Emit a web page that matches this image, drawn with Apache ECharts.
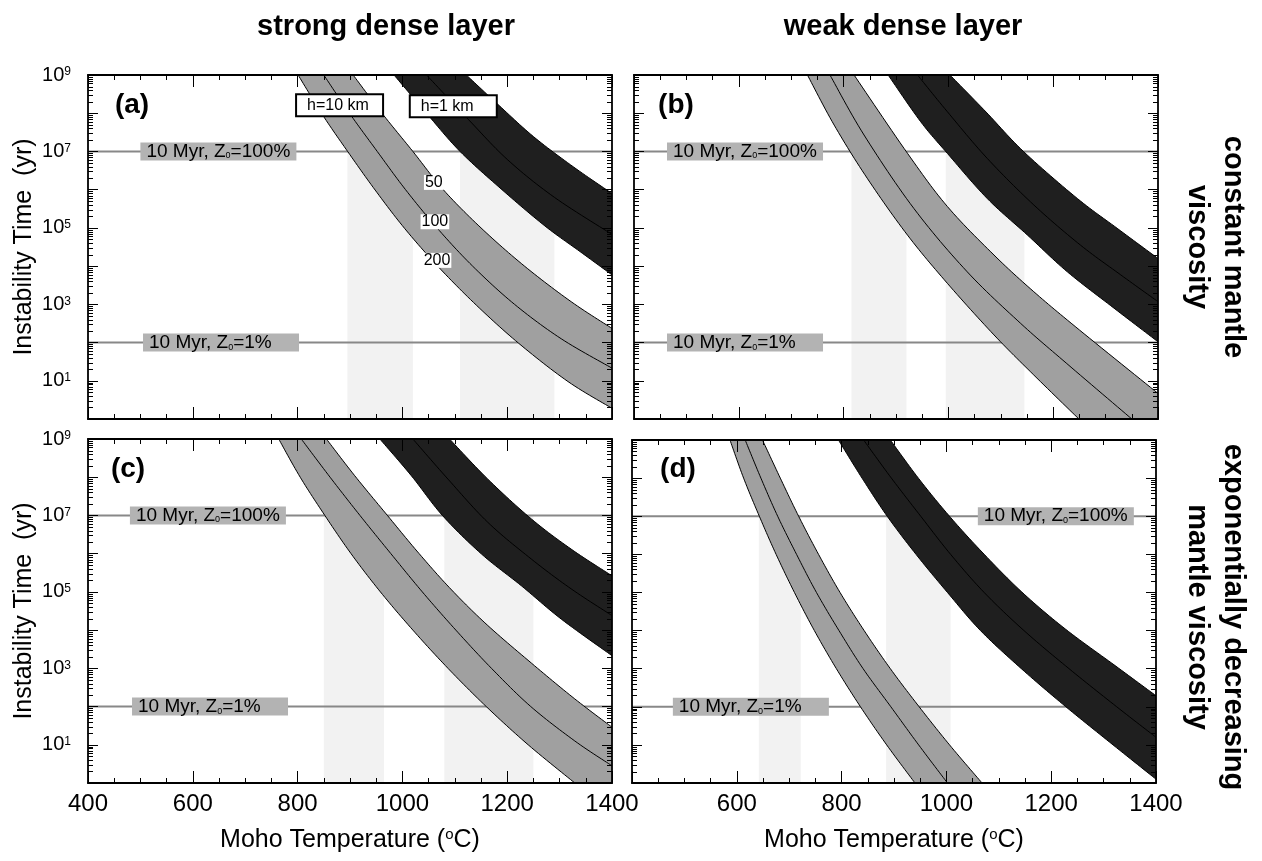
<!DOCTYPE html>
<html>
<head>
<meta charset="utf-8">
<script src="https://cdn.jsdelivr.net/npm/echarts@6/dist/echarts.min.js"></script>
<style>
html,body{margin:0;padding:0;background:#fff;}
#chart{width:1262px;height:861px;}
</style>
</head>
<body>
<div id="chart"></div>
<script>
// ---------------- DATA ----------------
// Each curve: [Moho temperature (°C), log10 of instability time (yr)]
// Labels 50 / 100 / 200 refer to the three curves of each band.
// (a) strong dense layer, constant mantle viscosity
const a_h10_50  = [[906,9.0],[961,8.0],[1020,7.0],[1078,6.0],[1150,5.0],[1233,4.0],[1322,3.07],[1400,2.37]];
const a_h10_100 = [[850,9.0],[899,8.0],[952,7.0],[1006,6.0],[1066,5.0],[1134,4.0],[1214,3.0],[1303,2.1],[1400,1.33]];
const a_h10_200 = [[801,9.0],[848,7.95],[896,6.99],[948,5.99],[1004,4.99],[1068,3.99],[1141,2.98],[1222,1.98],[1316,0.98],[1400,0.28]];
const a_h1_50   = [[1122,9.0],[1180,8.26],[1250,7.39],[1326,6.6],[1400,5.9]];
const a_h1_100  = [[1046,9.0],[1125,7.85],[1201,6.78],[1290,5.8],[1400,4.83]];
const a_h1_200  = [[984,9.0],[1046,8.0],[1110,7.0],[1190,6.0],[1272,5.05],[1339,4.38],[1400,3.77]];
// (b) weak dense layer, constant mantle viscosity
const b_h10_50  = [[820,9.0],[922,6.95],[998,5.56],[1087,4.29],[1163,3.33],[1250,2.33],[1400,0.67]];
const b_h10_100 = [[774,9.0],[839,7.43],[934,5.51],[1036,3.85],[1138,2.5],[1226,1.45],[1350,0.0]];
const b_h10_200 = [[731,9.0],[782,7.69],[845,6.3],[922,4.81],[998,3.55],[1087,2.2],[1163,1.15],[1249,0.0]];
const b_h1_50   = [[1003,9.0],[1072,8.03],[1144,6.99],[1246,5.77],[1322,4.99],[1400,4.2]];
const b_h1_100  = [[941,9.0],[998,8.04],[1074,6.82],[1163,5.6],[1252,4.55],[1329,3.77],[1400,3.07]];
const b_h1_200  = [[885,9.0],[947,7.78],[998,6.95],[1074,5.77],[1151,4.81],[1227,3.85],[1316,2.9],[1400,2.02]];
// (c) strong dense layer, exponentially decreasing mantle viscosity
const c_h10_50  = [[855,9.0],[909,8.04],[972,6.99],[1032,6.0],[1094,5.05],[1163,4.12],[1252,3.07],[1329,2.2],[1400,1.46]];
const c_h10_100 = [[807,9.0],[862,8.0],[919,7.0],[978,6.0],[1038,5.0],[1102,4.0],[1170,3.0],[1245,2.0],[1329,1.1],[1400,0.45]];
const c_h10_200 = [[764,9.0],[805,8.0],[852,7.0],[902,6.0],[958,5.0],[1020,4.0],[1087,3.0],[1160,2.0],[1240,1.0],[1329,0.0]];
const c_h1_50   = [[1090,9.0],[1163,7.95],[1246,6.91],[1322,6.12],[1400,5.42]];
const c_h1_100  = [[1020,9.0],[1087,7.95],[1163,6.82],[1246,5.86],[1322,5.08],[1400,4.38]];
const c_h1_200  = [[957,9.0],[1017,8.04],[1077,6.99],[1151,5.99],[1227,5.16],[1303,4.29],[1400,3.33]];
// (d) weak dense layer, exponentially decreasing mantle viscosity
const d_h10_50  = [[649,9.0],[683,8.0],[718,7.0],[756,6.0],[797,5.0],[843,4.0],[893,3.0],[948,2.0],[1006,1.0],[1068,0.0]];
const d_h10_100 = [[616,9.0],[646,8.0],[678,7.0],[714,6.0],[752,5.0],[795,4.0],[841,3.0],[894,2.0],[947,1.0],[1002,0.0]];
const d_h10_200 = [[587,9.0],[613,8.0],[643,7.0],[675,6.0],[710,5.0],[748,4.0],[790,3.0],[836,2.0],[886,1.0],[940,0.0]];
const d_h1_50   = [[893,9.0],[947,7.99],[1004,7.03],[1068,6.06],[1144,5.01],[1227,4.04],[1322,3.08],[1400,2.29]];
const d_h1_100  = [[842,9.0],[895,8.0],[951,7.0],[1008,6.0],[1072,5.0],[1148,4.0],[1234,3.0],[1325,2.0],[1400,1.2]];
const d_h1_200  = [[794,9.0],[839,8.0],[887,7.0],[942,6.0],[1002,5.0],[1065,4.0],[1143,3.0],[1228,2.0],[1318,1.0],[1400,0.1]];

// light vertical shaded temperature ranges [Tmin, Tmax]
const a_shade = [[895,1020],[1110,1290]];
const b_shade = [[815,920],[995,1145]];
const c_shade = [[850,965],[1080,1250]];
const d_shade = [[642,722],[885,1008]];

// reference times (yr) and their labels
const REF_TIMES = [1e7, 1e2];
const REF_NAMES = ['100%', '1%'];
// temperature where each reference label box starts
const a_refT = [500, 505];
const b_refT = [463, 463];
const c_refT = [480, 484];
const d_refT = [1060, 478];

// curve labels in panel (a): [text, T, log10 t]
const a_curveNums = [['50',1060,6.19],['100',1062,5.16],['200',1066,4.15]];
// thickness boxes in panel (a): [text, T(left edge), log10 t]
const a_hBoxes = [['h=10 km',799,8.21],['h=1 km',1016,8.18]];

const X_MIN = 400, X_MAX = 1400, X_STEP = 200;
const Y_MIN = 1, Y_MAX = 1e9;
const Y_LABEL_EXP = [1,3,5,7,9];

// ---------------- BUILD ----------------
const FONT = '"Liberation Sans", Arial, Helvetica, sans-serif';
const GRAY = '#a0a0a0', BLACK = '#1f1f1f';
const P = v => Math.pow(10, v);
const toXY = c => c.map(([t, e]) => [t, P(e)]);

// rendering helper: smooth (Catmull-Rom as cubic Bezier) sampling of pixel points
function smoothPx(px, n) {
  if (px.length < 3) return px;
  const out = [px[0]];
  for (let i = 0; i < px.length - 1; i++) {
    const p0 = px[Math.max(i - 1, 0)], p1 = px[i], p2 = px[i + 1], p3 = px[Math.min(i + 2, px.length - 1)];
    const c1 = [p1[0] + (p2[0] - p0[0]) / 6, p1[1] + (p2[1] - p0[1]) / 6];
    const c2 = [p2[0] - (p3[0] - p1[0]) / 6, p2[1] - (p3[1] - p1[1]) / 6];
    for (let k = 1; k <= n; k++) {
      const t = k / n, u = 1 - t;
      out.push([
        u*u*u*p1[0] + 3*u*u*t*c1[0] + 3*u*t*t*c2[0] + t*t*t*p2[0],
        u*u*u*p1[1] + 3*u*u*t*c1[1] + 3*u*t*t*c2[1] + t*t*t*p2[1]
      ]);
    }
  }
  return out;
}

const yMinor = [];
for (let n = 0; n < 9; n++) for (let k = 2; k <= 9; k++) yMinor.push(k * Math.pow(10, n));

const panels = [
  {grid:{left:88, top:75, width:524, height:344}, gray:[a_h10_50,a_h10_100,a_h10_200], black:[a_h1_50,a_h1_100,a_h1_200], shade:a_shade, refT:a_refT, xl:false, yl:true},
  {grid:{left:634, top:75, width:524, height:344}, gray:[b_h10_50,b_h10_100,b_h10_200], black:[b_h1_50,b_h1_100,b_h1_200], shade:b_shade, refT:b_refT, xl:false, yl:false},
  {grid:{left:88, top:439, width:524, height:344}, gray:[c_h10_50,c_h10_100,c_h10_200], black:[c_h1_50,c_h1_100,c_h1_200], shade:c_shade, refT:c_refT, xl:true, yl:true, skip400:false},
  {grid:{left:632, top:440, width:524, height:343}, gray:[d_h10_50,d_h10_100,d_h10_200], black:[d_h1_50,d_h1_100,d_h1_200], shade:d_shade, refT:d_refT, xl:true, yl:false, skip400:true}
];

const grid = [], xAxis = [], yAxis = [], series = [];
const axisLine = {show:true, onZero:false, lineStyle:{color:'#000', width:1.8}};

panels.forEach((p, i) => {
  grid.push(Object.assign({outerBoundsMode:'none', containLabel:false}, p.grid));
  ['bottom','top'].forEach((pos, j) => {
    xAxis.push({
      type:'value', gridIndex:i, position:pos, min:X_MIN, max:X_MAX, interval:X_STEP, z:10,
      axisLine:axisLine,
      axisTick:{show:true, inside:true, length:12, lineStyle:{color:'#000', width:1}},
      minorTick:{show:true, splitNumber:4, length:5, lineStyle:{color:'#000', width:1}},
      splitLine:{show:false}, minorSplitLine:{show:false},
      axisLabel:{show: j === 0 && p.xl, fontSize:24, color:'#000', fontFamily:FONT, margin:9,
        formatter: v => (p.skip400 && v === X_MIN) ? '' : String(v)}
    });
  });
  ['left','right'].forEach((pos, j) => {
    yAxis.push({
      type:'log', logBase:10, gridIndex:i, position:pos, min:Y_MIN, max:Y_MAX, interval:1, splitNumber:9, z:10,
      axisLine:axisLine,
      axisTick:{show:true, inside:true, length:10, lineStyle:{color:'#000', width:1}},
      splitLine:{show:false},
      axisLabel:{show: j === 0 && p.yl, margin:17, color:'#000',
        formatter: v => { const e = Math.round(Math.log10(v)); return Y_LABEL_EXP.indexOf(e) >= 0 ? '{b|10}{e|' + e + '}' : ''; },
        rich:{b:{fontSize:20, fontFamily:FONT, color:'#000', lineHeight:18},
              e:{fontSize:12, fontFamily:FONT, color:'#000', lineHeight:2, verticalAlign:'top'}}}
    });
  });
  const xi = 2 * i, yi = 2 * i;
  // shaded temperature ranges
  series.push({type:'custom', xAxisIndex:xi, yAxisIndex:yi, z:1, silent:true, animation:false,
    data: p.shade.map(s => [s[0], s[1]]),
    renderItem:(params, api) => {
      const p0 = api.coord([api.value(0), REF_TIMES[0]]);
      const p1 = api.coord([api.value(1), Y_MIN]);
      return {type:'rect', shape:{x:p0[0], y:p0[1], width:p1[0]-p0[0], height:p1[1]-p0[1]}, style:{fill:'#f2f2f2'}};
    }});
  // reference horizontal lines
  series.push({type:'custom', xAxisIndex:xi, yAxisIndex:yi, z:2, silent:true, animation:false,
    data: REF_TIMES.map(v => [X_MIN, v]),
    renderItem:(params, api) => {
      const a = api.coord([X_MIN, api.value(1)]), b = api.coord([X_MAX, api.value(1)]);
      return {type:'line', shape:{x1:a[0], y1:a[1], x2:b[0], y2:b[1]}, style:{stroke:'#888888', lineWidth:2}};
    }});
  // bands (fill + three curves)
  [[p.gray, GRAY], [p.black, BLACK]].forEach(([c, fill]) => {
    const up = toXY(c[0]), mid = toXY(c[1]), lo = toXY(c[2]);
    const ue = c[0][c[0].length - 1], le = c[2][c[2].length - 1];
    const needCorner = ue[0] >= X_MAX && le[1] <= 0 && le[0] < X_MAX;
    series.push({type:'custom', xAxisIndex:xi, yAxisIndex:yi, z:3, silent:true, clip:true, animation:false,
      data:[up[0]],
      renderItem:(params, api) => {
        const su = smoothPx(up.map(q => api.coord(q)), 14);
        const sm = smoothPx(mid.map(q => api.coord(q)), 14);
        const sl = smoothPx(lo.map(q => api.coord(q)), 14);
        let poly = su.slice();
        if (needCorner) poly.push(api.coord([X_MAX, Y_MIN]));
        poly = poly.concat(sl.slice().reverse());
        const ln = pts => ({type:'polyline', shape:{points:pts}, style:{stroke:'#000', lineWidth:1, fill:null}});
        return {type:'group', children:[
          {type:'polygon', shape:{points:poly}, style:{fill:fill}},
          ln(su), ln(sm), ln(sl)
        ]};
      }});
  });
  // reference labels
  series.push({type:'scatter', xAxisIndex:xi, yAxisIndex:yi, z:5, silent:true, animation:false, symbolSize:0,
    itemStyle:{opacity:1},
    data: REF_TIMES.map((v, k) => ({value:[p.refT[k], v], name:REF_NAMES[k]})),
    label:{show:true, opacity:1, position:'right', distance:0, backgroundColor:'#b3b3b3', padding:[0,4,0,6], width:146, lineHeight:18,
      formatter: q => '{t|10 Myr, Z}{s|0}{t|=' + q.name + '}',
      rich:{t:{fontSize:19, fontFamily:FONT, color:'#000', lineHeight:18},
            s:{fontSize:9, fontFamily:FONT, color:'#000', lineHeight:0.5, verticalAlign:'bottom'}}}});
  // y minor ticks (log 2..9 per decade), both sides
  series.push({type:'custom', xAxisIndex:xi, yAxisIndex:yi, z:12, silent:true, animation:false,
    data: yMinor.map(v => [X_MIN, v]),
    renderItem:(params, api) => {
      const cs = params.coordSys;
      const y = Math.round(api.coord([X_MIN, api.value(1)])[1]) + 0.5;
      return {type:'group', children:[
        {type:'line', shape:{x1:cs.x, y1:y, x2:cs.x+5, y2:y}, style:{stroke:'#000', lineWidth:1}},
        {type:'line', shape:{x1:cs.x+cs.width-5, y1:y, x2:cs.x+cs.width, y2:y}, style:{stroke:'#000', lineWidth:1}}
      ]};
    }});
});

// panel (a) extra labels
series.push({type:'scatter', xAxisIndex:0, yAxisIndex:0, z:6, silent:true, animation:false, symbolSize:0,
  itemStyle:{opacity:1},
  data: a_curveNums.map(c => ({value:[c[1], P(c[2])], name:c[0]})),
  label:{show:true, opacity:1, position:'inside', formatter: q => q.name, fontSize:16, fontFamily:FONT, color:'#000',
    backgroundColor:'#fff', padding:[0,1], lineHeight:15}});
series.push({type:'scatter', xAxisIndex:0, yAxisIndex:0, z:6, silent:true, animation:false, symbolSize:0,
  itemStyle:{opacity:1},
  data: a_hBoxes.map(c => ({value:[c[1], P(c[2])], name:c[0]})),
  label:{show:true, opacity:1, position:'right', distance:0, formatter: q => q.name, fontSize:16, fontFamily:FONT, color:'#000',
    backgroundColor:'#fff', borderColor:'#000', borderWidth:2, padding:[1,2,1,10], width:73, lineHeight:18, align:'left'}});

function txt(x, y, text, font, rot, extra) {
  return Object.assign({type:'text', x:x, y:y, rotation:rot || 0, silent:true,
    style:Object.assign({text:text, font:font, fill:'#000', align:'center', verticalAlign:'middle',
      textAlign:'center', textVerticalAlign:'middle'}, extra || {})});
}
const boldT = 'bold 29px ' + FONT;
const axT = '25px ' + FONT;
const xTitleRich = {a:{fontSize:25, fontFamily:FONT, color:'#000', lineHeight:25},
                    s:{fontSize:15, fontFamily:FONT, color:'#000', lineHeight:2, verticalAlign:'top'}};
const graphic = [
  txt(386, 27, 'strong dense layer', boldT),
  txt(903, 27, 'weak dense layer', boldT),
  txt(1215, 247, 'constant mantle\nviscosity', boldT, -Math.PI/2, {lineHeight:36}),
  txt(1215, 617, 'exponentially decreasing\nmantle viscosity', boldT, -Math.PI/2, {lineHeight:36}),
  txt(24, 247, 'Instability Time  (yr)', axT, Math.PI/2),
  txt(24, 611, 'Instability Time  (yr)', axT, Math.PI/2),
  txt(350, 840, '{a|Moho Temperature (}{s|o}{a|C)}', axT, 0, {rich:xTitleRich}),
  txt(894, 840, '{a|Moho Temperature (}{s|o}{a|C)}', axT, 0, {rich:xTitleRich}),
  txt(132, 105, '(a)', 'bold 28px ' + FONT),
  txt(676, 105, '(b)', 'bold 28px ' + FONT),
  txt(128, 469, '(c)', 'bold 28px ' + FONT),
  txt(678, 469, '(d)', 'bold 28px ' + FONT)
];

const chart = echarts.init(document.getElementById('chart'), null, {renderer:'canvas'});
chart.setOption({
  animation:false,
  backgroundColor:'#fff',
  grid: grid, xAxis: xAxis, yAxis: yAxis, series: series, graphic: graphic
});
</script>
</body>
</html>
